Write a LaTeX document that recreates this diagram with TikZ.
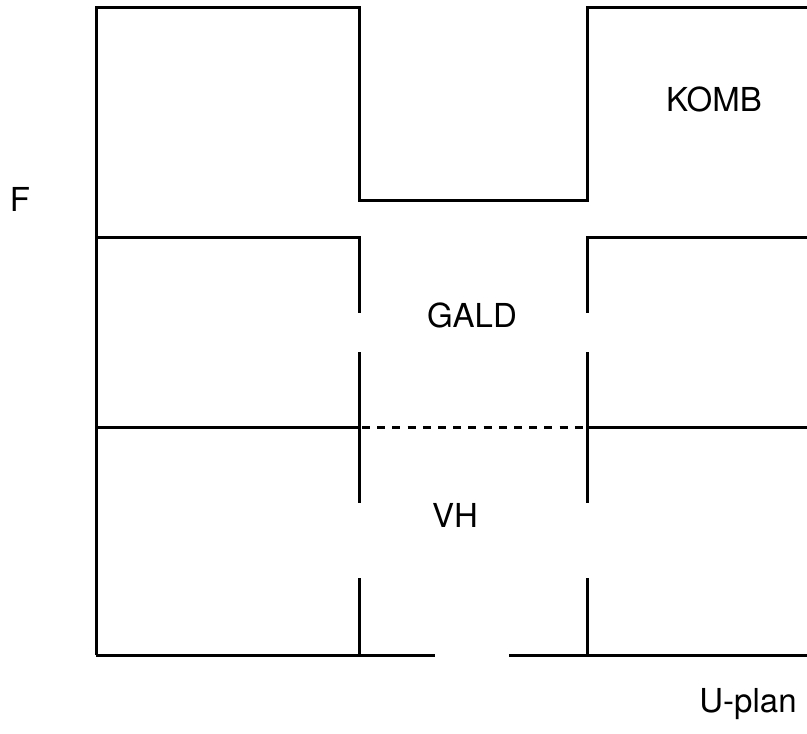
\documentclass[tikz,border=0pt]{standalone}
\usepackage{fontspec}
\setmainfont{TeX Gyre Heros}
\usepackage{tikz}
\usetikzlibrary{positioning}

\tikzset{
    wall/.style={line width=1.5pt},
    gap/.style={line width=1.5pt, dash pattern=on 4pt off 3.6pt},
    zonelabel/.style={font=\fontsize{16.5}{20}\selectfont, inner sep=0pt}
}

\begin{document}
\begin{tikzpicture}[x=0.5pt, y=-0.5pt]
    \useasboundingbox (0,0) rectangle (807,733);

    % Outer frame with notch
    \draw[wall] (96,655) -- (96,8) -- (359,8) -- (359,200)
        -- (587,200) -- (587,8) -- (807,8);

    % Middle level
    \draw[wall] (96,237) -- (359,237) -- (359,313);
    \draw[wall] (807,237) -- (587,237) -- (587,313);
    \draw[wall] (359,352) -- (359,503);
    \draw[wall] (587,352) -- (587,503);
    \draw[wall] (359,578) -- (359,655);
    \draw[wall] (587,578) -- (587,655);

    % Lower level
    \draw[wall] (96,427) -- (359,427);
    \draw[gap] (362,427) -- (585,427);
    \draw[wall] (587,427) -- (807,427);

    % Base line
    \draw[wall] (96,655) -- (435,655);
    \draw[wall] (509,655) -- (807,655);

    % Labels
    \node[zonelabel] (komb) at (714,99) {KOMB};
    \node[zonelabel] (gald) at (472,315) {GALD};
    \node[zonelabel] (vh) at (455,515) {VH};
    \node[zonelabel] (f) at (20,199) {F};
    \node[zonelabel] (uplan) at (748,704) {U-plan};
\end{tikzpicture}
\end{document}
